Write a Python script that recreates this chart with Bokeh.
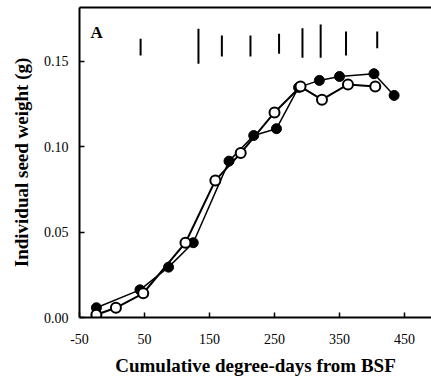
from bokeh.plotting import figure
from bokeh.models import Range1d, FixedTicker, NumeralTickFormatter, Label, LinearAxis
from bokeh.embed import file_html
from bokeh.resources import INLINE

# Filled-circle series
filled_x = [-24, 43, 87, 125, 180, 218, 253, 287, 319, 350, 403, 434]
filled_y = [0.0057, 0.0162, 0.0295, 0.0438, 0.0916, 0.1066, 0.1106, 0.1348, 0.1389, 0.1412, 0.1428, 0.1301]

# Open-circle series
open_x = [-24, 6, 48, 113, 159, 198, 250, 290, 323, 363, 405]
open_y = [0.0016, 0.0057, 0.0142, 0.0438, 0.0803, 0.0963, 0.1201, 0.1353, 0.1276, 0.1365, 0.1353]

# Vertical bars along the top
bar_x = [44, 133, 169, 213, 257, 293, 321, 360, 408]
bar_low = [0.1535, 0.1486, 0.1529, 0.1529, 0.1545, 0.1522, 0.1522, 0.1535, 0.1578]
bar_high = [0.1633, 0.1692, 0.1652, 0.1652, 0.1662, 0.1695, 0.1717, 0.1676, 0.1676]

x_ticks = [-50, 50, 150, 250, 350, 450]
x_tick_labels = ["-50", "50", "150", "250", "350", "450"]
y_ticks = [0.0, 0.05, 0.10, 0.15]

FONT = "Liberation Serif"

p = figure(width=431, height=378, output_backend="svg", toolbar_location=None,
           x_range=Range1d(-50, 491.5), y_range=Range1d(0, 0.1816),
           min_border_left=79, min_border_right=0, min_border_top=7, min_border_bottom=61)
p.outline_line_color = None
p.xgrid.visible = False
p.ygrid.visible = False
p.background_fill_color = "white"
p.border_fill_color = "white"

xax = p.below[0]
yax = p.left[0]

for ax in (xax, yax):
    ax.axis_line_width = 2
    ax.axis_line_color = "black"
    ax.major_tick_in = 5
    ax.major_tick_out = 0
    ax.major_tick_line_width = 1.5
    ax.minor_tick_in = 0
    ax.minor_tick_out = 0
    ax.major_label_text_font = FONT
    ax.major_label_text_font_size = "14px"
    ax.major_label_text_color = "black"
    ax.axis_label_text_font = FONT
    ax.axis_label_text_font_style = "bold"
    ax.axis_label_text_font_size = "19px"
    ax.axis_label_text_color = "black"

xax.ticker = FixedTicker(ticks=x_ticks)
xax.major_label_overrides = {t: s for t, s in zip(x_ticks, x_tick_labels)}
yax.ticker = FixedTicker(ticks=y_ticks)
yax.formatter = NumeralTickFormatter(format="0.00")
xax.axis_label = "Cumulative degree-days from BSF"
yax.axis_label = "Individual seed weight (g)"
xax.major_label_standoff = 16
xax.axis_label_standoff = 8
yax.major_label_standoff = 11
yax.axis_label_standoff = 9

# top border line
top = LinearAxis(ticker=FixedTicker(ticks=[]), axis_line_width=2, axis_line_color="black",
                 major_tick_in=0, major_tick_out=0, minor_tick_in=0, minor_tick_out=0,
                 major_label_text_font_size="0px", major_label_standoff=0)
p.add_layout(top, "above")

# top bars
p.segment(x0=bar_x, y0=bar_low, x1=bar_x, y1=bar_high, line_color="black", line_width=2)

# series
p.line(filled_x, filled_y, line_color="black", line_width=1.5)
p.scatter(filled_x, filled_y, size=10, fill_color="black", line_color="black")
p.line(open_x, open_y, line_color="black", line_width=2)
p.scatter(open_x, open_y, size=10, fill_color="white", line_color="black", line_width=2)

p.add_layout(Label(x=-33, y=0.1668, text="A", text_font=FONT, text_font_style="bold",
                   text_font_size="17px", text_color="black", text_baseline="alphabetic"))

open("out.html", "w").write(file_html(p, INLINE))
